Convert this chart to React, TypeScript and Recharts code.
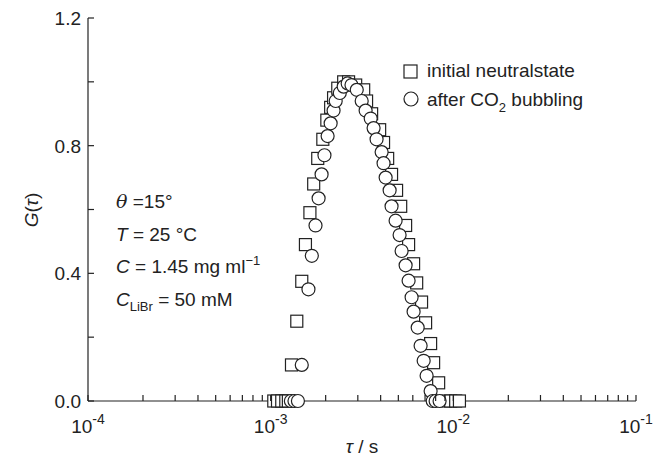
import React from 'react';
import { ScatterChart, Scatter, XAxis, YAxis } from 'recharts';

const squareTau = [1.04, 1.09, 1.15, 1.21, 1.25, 1.30, 1.39, 1.48, 1.55, 1.64, 1.72, 1.81, 1.93, 2.03, 2.13, 2.21, 2.33, 2.51, 2.67, 2.92, 3.23, 3.35, 3.57, 3.95, 4.15, 4.37, 4.59, 4.89, 5.15, 5.48, 5.69, 6.06, 6.30, 6.70, 7.05, 7.51, 7.80, 8.31, 9.08, 9.67, 10.3, 10.8];
const squareG = [0, 0, 0, 0, 0, 0.113, 0.25, 0.375, 0.49, 0.59, 0.68, 0.76, 0.82, 0.88, 0.92, 0.95, 0.98, 1.0, 1.0, 0.99, 0.975, 0.94, 0.90, 0.85, 0.81, 0.76, 0.71, 0.66, 0.61, 0.55, 0.49, 0.43, 0.37, 0.31, 0.245, 0.18, 0.12, 0.057, 0, 0, 0, 0];
const circleTau = [1.29, 1.35, 1.41, 1.48, 1.61, 1.68, 1.76, 1.83, 1.90, 1.97, 2.05, 2.13, 2.21, 2.27, 2.39, 2.51, 2.64, 2.77, 2.96, 3.15, 3.31, 3.53, 3.66, 3.80, 4.05, 4.15, 4.26, 4.48, 4.59, 4.83, 5.08, 5.21, 5.48, 5.69, 5.91, 6.06, 6.38, 6.62, 6.88, 7.14, 7.51, 7.71, 8.00, 8.41];
const circleG = [0, 0, 0, 0.113, 0.35, 0.455, 0.55, 0.635, 0.71, 0.77, 0.83, 0.87, 0.91, 0.94, 0.965, 0.985, 0.995, 0.99, 0.975, 0.94, 0.91, 0.885, 0.855, 0.82, 0.78, 0.745, 0.70, 0.66, 0.61, 0.565, 0.52, 0.47, 0.425, 0.377, 0.325, 0.28, 0.23, 0.173, 0.126, 0.079, 0.031, 0, 0, 0];

const majorX = [1e-4, 1e-3, 1e-2, 1e-1];
const majorXLabels = ['-4', '-3', '-2', '-1'];
const minorMult = [2, 3, 4, 5, 6, 7, 8, 9];
const yTicks = [0, 0.2, 0.4, 0.6, 0.8, 1.0, 1.2];
const yLabels = ['0.0', '', '0.4', '', '0.8', '', '1.2'];

const xTicks: number[] = [];
[1e-4, 1e-3, 1e-2].forEach(d => {
  xTicks.push(d);
  minorMult.forEach(m => xTicks.push(d * m));
});
xTicks.push(1e-1);

const squares = squareTau.map((t, i) => ({ x: t * 1e-3, y: squareG[i] }));
const circles = circleTau.map((t, i) => ({ x: t * 1e-3, y: circleG[i] }));

const font = '"Liberation Sans", Arial, sans-serif';

const XTick = (props: any) => {
  const { x, y, payload } = props;
  const idx = majorX.findIndex(v => Math.abs(v - payload.value) / v < 1e-6);
  return (
    <g>
      <line x1={x} y1={y} x2={x} y2={y - 6} stroke="#222" strokeWidth={1.2} />
      {idx >= 0 && (
        <text x={x} y={y + 32} textAnchor="middle" fontSize={19} fill="#222" fontFamily={font}>
          10<tspan dy={-9} fontSize={14}>{majorXLabels[idx]}</tspan>
        </text>
      )}
    </g>
  );
};

const YTick = (props: any) => {
  const { x, y, index } = props;
  return (
    <g>
      <line x1={x} y1={y} x2={x + 6} y2={y} stroke="#222" strokeWidth={1.2} />
      <text x={x - 7} y={y + 7} textAnchor="end" fontSize={19} fill="#222" fontFamily={font}>
        {yLabels[index] ?? ''}
      </text>
    </g>
  );
};

const Square = (props: any) => (
  <rect x={props.cx - 6} y={props.cy - 6} width={12} height={12} fill="#fff" stroke="#222" strokeWidth={1.2} />
);
const Circle = (props: any) => (
  <circle cx={props.cx} cy={props.cy} r={6.5} fill="#fff" stroke="#222" strokeWidth={1.2} />
);

export default function App() {
  return (
    <div style={{ position: 'absolute', left: 0, top: 0, background: '#fff' }}>
      <ScatterChart width={653} height={460} margin={{ top: 18, right: 17, bottom: 19, left: 28 }}>
        <XAxis
          dataKey="x"
          type="number"
          scale="log"
          domain={[1e-4, 1e-1]}
          ticks={xTicks}
          interval={0}
          allowDataOverflow
          tickSize={0}
          tickMargin={0}
          height={40}
          tick={<XTick />}
          axisLine={{ stroke: '#222', strokeWidth: 1.2 }}
        />
        <XAxis xAxisId="top" orientation="top" type="number" domain={[0, 1]} tick={false} height={0} axisLine={{ stroke: '#222', strokeWidth: 1.2 }} />
        <YAxis
          dataKey="y"
          type="number"
          domain={[0, 1.2]}
          ticks={yTicks}
          interval={0}
          tickSize={0}
          tickMargin={0}
          width={60}
          tick={<YTick />}
          axisLine={{ stroke: '#222', strokeWidth: 1.2 }}
        />
        <YAxis yAxisId="right" orientation="right" type="number" domain={[0, 1]} tick={false} width={0} axisLine={{ stroke: '#222', strokeWidth: 1.2 }} />
        <Scatter data={squares} shape={<Square />} isAnimationActive={false} />
        <Scatter data={circles} shape={<Circle />} isAnimationActive={false} />
        <g fontFamily={font} fill="#222" fontSize={19}>
          <text x={38} y={210} textAnchor="middle" transform="rotate(-90 38 210)">
            <tspan fontStyle="italic">G</tspan>(<tspan fontStyle="italic">τ</tspan>)
          </text>
          <text x={362} y={453} textAnchor="middle">
            <tspan fontStyle="italic">τ</tspan> / s
          </text>
          <text x={116} y={208}><tspan fontStyle="italic" fontFamily="'DejaVu Serif', serif">θ</tspan> =15°</text>
          <text x={116} y={241}><tspan fontStyle="italic">T</tspan> = 25 °C</text>
          <text x={116} y={273}><tspan fontStyle="italic">C</tspan> = 1.45 mg ml<tspan dy={-8} fontSize={13}>−1</tspan></text>
          <text x={116} y={306}><tspan fontStyle="italic">C</tspan><tspan dy={5} fontSize={13}>LiBr</tspan><tspan dy={-5}> = 50 mM</tspan></text>
          <rect x={404} y={65} width={13} height={13} fill="#fff" stroke="#222" strokeWidth={1.2} />
          <text x={427} y={77}>initial neutralstate</text>
          <circle cx={411} cy={99} r={7} fill="#fff" stroke="#222" strokeWidth={1.2} />
          <text x={427} y={106}>after CO<tspan dy={6} fontSize={13}>2</tspan><tspan dy={-6}> bubbling</tspan></text>
        </g>
      </ScatterChart>
    </div>
  );
}
